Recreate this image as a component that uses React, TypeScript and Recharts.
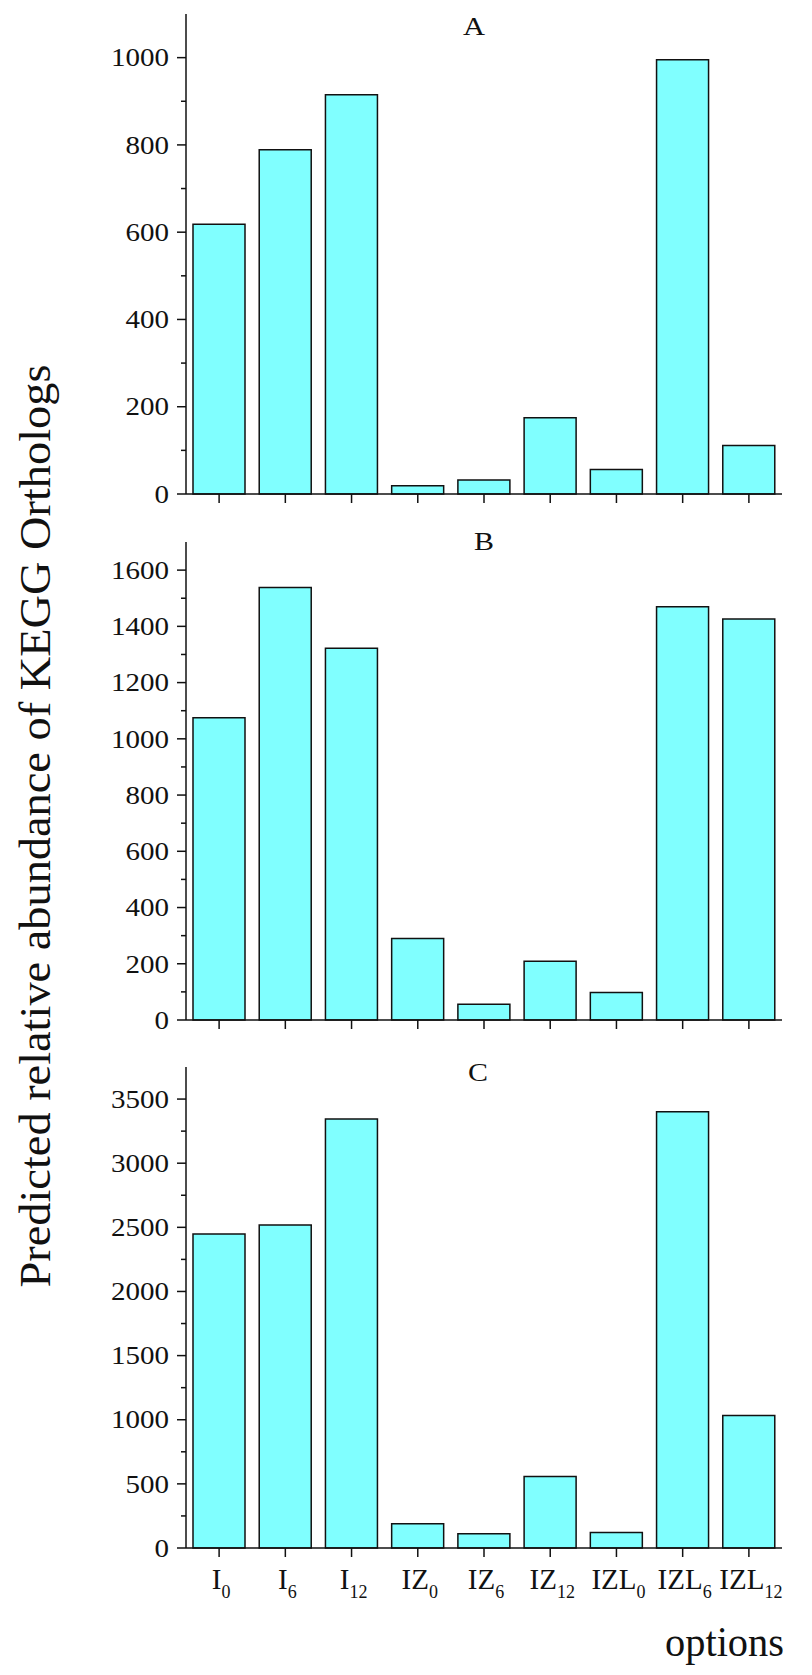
import React from "react";
import { BarChart, Bar, XAxis, YAxis } from "recharts";

const categories = ["I0", "I6", "I12", "IZ0", "IZ6", "IZ12", "IZL0", "IZL6", "IZL12"];

const valuesA = [618, 789, 915, 19, 32, 175, 56, 995, 111];
const valuesB = [1075, 1538, 1322, 290, 56, 209, 98, 1470, 1426];
const valuesC = [2448, 2518, 3345, 190, 111, 557, 120, 3402, 1033];

const ticksA = [0, 100, 200, 300, 400, 500, 600, 700, 800, 900, 1000];
const ticksB = [0, 100, 200, 300, 400, 500, 600, 700, 800, 900, 1000, 1100, 1200, 1300, 1400, 1500, 1600];
const ticksC = [0, 250, 500, 750, 1000, 1250, 1500, 1750, 2000, 2250, 2500, 2750, 3000, 3250, 3500];

const panelTitles = ["A", "B", "C"];
const yAxisTitle = "Predicted relative abundance of KEGG Orthologs";
const xAxisTitle = "options";

const SERIF = '"Liberation Serif", "Times New Roman", serif';
const INK = "#111";
const TICK_SIZE = 9;
const TICK_MARGIN = 8;

const serifStyle = { fontFamily: SERIF };

// y tick: long tick + label on major values, short tick only on minor ones
function ValueTick(props: any) {
  const { x, y, payload, majorStep } = props;
  const axisX = x + TICK_SIZE + TICK_MARGIN;
  const v = payload.value as number;
  const major = v % majorStep === 0;
  const label = String(v);
  return (
    <g>
      <line x1={axisX - (major ? 9 : 5)} x2={axisX} y1={y} y2={y} stroke={INK} strokeWidth={1.5} />
      {major && (
        <text
          x={x}
          y={y}
          dy="0.35em"
          textAnchor="end"
          style={serifStyle}
          fontSize={25}
          fill={INK}
          textLength={label.length * 14.5}
          lengthAdjust="spacingAndGlyphs"
        >
          {label}
        </text>
      )}
    </g>
  );
}

// category label with a numeric subscript, e.g. IZL12
function CategoryTick(props: any) {
  const { x, y, payload } = props;
  const m = /^([A-Z]+)(\d+)$/.exec(payload.value) || ["", payload.value, ""];
  return (
    <text x={x + 2} y={y + 30} textAnchor="middle" style={serifStyle} fontSize={29} fill={INK}>
      <tspan>{m[1]}</tspan>
      <tspan fontSize={18} dy={9}>{m[2]}</tspan>
    </text>
  );
}

const EmptyTick = () => <g />;

interface PanelProps {
  values: number[];
  yMax: number;
  ticks: number[];
  majorStep: number;
  top: number;
  height: number;
  marginTop: number;
  marginBottom: number;
  xAxisHeight: number;
  showLabels: boolean;
}

function Panel({ values, yMax, ticks, majorStep, top, height, marginTop, marginBottom, xAxisHeight, showLabels }: PanelProps) {
  const data = categories.map((name, i) => ({ name, value: values[i] }));
  return (
    <div style={{ position: "absolute", left: 0, top, width: 812, height }}>
      <BarChart
        width={812}
        height={height}
        data={data}
        margin={{ top: marginTop, right: 30, bottom: marginBottom, left: 86 }}
      >
        <XAxis
          dataKey="name"
          interval={0}
          height={xAxisHeight}
          tickSize={TICK_SIZE}
          tickMargin={2}
          axisLine={{ stroke: INK, strokeWidth: 1.5 }}
          tickLine={{ stroke: INK, strokeWidth: 1.5 }}
          tick={showLabels ? CategoryTick : EmptyTick}
        />
        <YAxis
          type="number"
          width={100}
          domain={[0, yMax]}
          ticks={ticks}
          interval={0}
          tickSize={TICK_SIZE}
          tickMargin={TICK_MARGIN}
          tickLine={false}
          axisLine={{ stroke: INK, strokeWidth: 1.5 }}
          tick={(p: any) => <ValueTick {...p} majorStep={majorStep} />}
        />
        <Bar dataKey="value" fill="#80FFFF" stroke={INK} strokeWidth={1.5} barSize={52} isAnimationActive={false} />
      </BarChart>
    </div>
  );
}

export default function App() {
  return (
    <div style={{ position: "absolute", left: 0, top: 0, width: 812, height: 1675, background: "#fff" }}>
      <Panel values={valuesA} yMax={1100} ticks={ticksA} majorStep={200} top={0} height={540}
        marginTop={14} marginBottom={16} xAxisHeight={30} showLabels={false} />
      <Panel values={valuesB} yMax={1700} ticks={ticksB} majorStep={200} top={520} height={540}
        marginTop={22} marginBottom={10} xAxisHeight={30} showLabels={false} />
      <Panel values={valuesC} yMax={3750} ticks={ticksC} majorStep={500} top={1040} height={635}
        marginTop={27} marginBottom={67} xAxisHeight={60} showLabels={true} />
      <svg width={812} height={1675} style={{ position: "absolute", left: 0, top: 0, pointerEvents: "none" }}>
        <g style={serifStyle} fill={INK}>
          <text x={474} y={35} textAnchor="middle" style={serifStyle} fontSize={25} textLength={22} lengthAdjust="spacingAndGlyphs">{panelTitles[0]}</text>
          <text x={484} y={550} textAnchor="middle" style={serifStyle} fontSize={25} textLength={20} lengthAdjust="spacingAndGlyphs">{panelTitles[1]}</text>
          <text x={478} y={1081} textAnchor="middle" style={serifStyle} fontSize={25} textLength={20} lengthAdjust="spacingAndGlyphs">{panelTitles[2]}</text>
          <text
            transform="translate(50, 826) rotate(-90)"
            textAnchor="middle"
            style={serifStyle}
            fontSize={45}
            textLength={923}
            lengthAdjust="spacingAndGlyphs"
          >
            {yAxisTitle}
          </text>
          <text x={784} y={1656} textAnchor="end" style={serifStyle} fontSize={42} textLength={119} lengthAdjust="spacingAndGlyphs">{xAxisTitle}</text>
        </g>
      </svg>
    </div>
  );
}
